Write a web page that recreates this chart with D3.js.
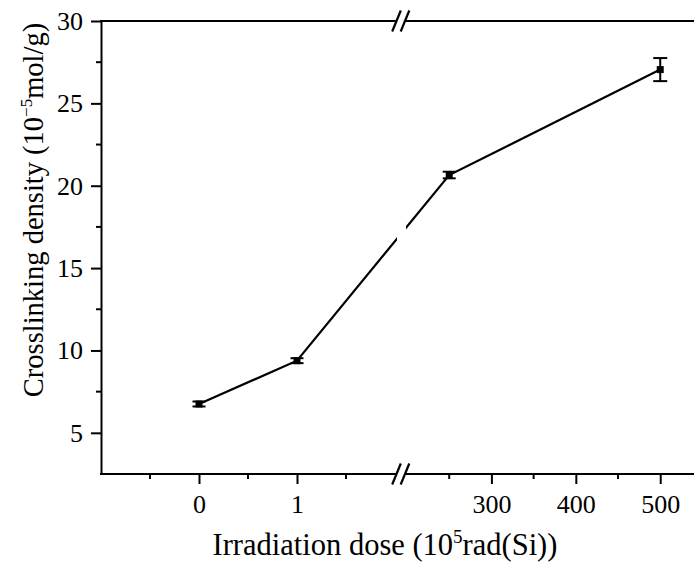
<!DOCTYPE html>
<html>
<head>
<meta charset="utf-8">
<script src="https://cdn.jsdelivr.net/npm/d3@7"></script>
<style>
  body { margin: 0; background: #fff; }
  text { font-family: "Liberation Serif", "Times New Roman", serif; fill: #000; }
</style>
</head>
<body>
<div id="container"></div>
<script>
/* DATA */
const doses = [0, 1, 250, 500];
const density = [6.75, 9.38, 20.65, 27.05];
const errors = [0.15, 0.15, 0.2, 0.7];
const leftTicks = [0, 1];
const rightTicks = [300, 400, 500];
const yTicks = [5, 10, 15, 20, 25, 30];

/* CONSTANTS */
const width = 694, height = 562;
const plotTop = 21, plotBottom = 474, plotLeft = 101, plotRight = 694;
const breakA = 396.5, breakB = 405;

const svg = d3.select("#container").append("svg")
  .attr("width", width).attr("height", height);

// SCALES (broken x axis: two pieces)
const xLeft = d3.scaleLinear().domain([-1, 2]).range([plotLeft, 395]);
const xRight = d3.scaleLinear().domain([200, 540]).range([407, 694]);
const xPos = d => d < 100 ? xLeft(d) : xRight(d);
const y = d3.scaleLinear().domain([2.5, 30]).range([plotBottom, plotTop]);

// clip regions either side of the break
const defs = svg.append("defs");
defs.append("clipPath").attr("id", "clipL").append("rect")
  .attr("x", 0).attr("y", 0).attr("width", 397).attr("height", height);
defs.append("clipPath").attr("id", "clipR").append("rect")
  .attr("x", 406).attr("y", 0).attr("width", width - 406).attr("height", height);

// Y AXIS
const yAxis = d3.axisLeft(y).tickValues(yTicks).tickFormat(d3.format("d"))
  .tickSize(10).tickPadding(8).tickSizeOuter(0);
const yg = svg.append("g").attr("transform", `translate(${plotLeft},0)`).call(yAxis);
yg.attr("font-size", null).attr("font-family", null);
yg.select(".domain").attr("stroke-width", 2);
yg.selectAll(".tick line").attr("stroke-width", 2);
yg.selectAll(".tick text").style("font-size", "26px");
yg.selectAll(".minor").data(d3.range(7.5, 30, 5)).enter().append("line")
  .attr("x1", -5).attr("x2", 0).attr("y1", d => y(d)).attr("y2", d => y(d))
  .attr("stroke", "#000").attr("stroke-width", 2);

// X AXIS pieces
const xAxisL = d3.axisBottom(xLeft).tickValues(leftTicks).tickFormat(d3.format("d"))
  .tickSize(10).tickPadding(11).tickSizeOuter(0);
const xAxisR = d3.axisBottom(xRight).tickValues(rightTicks).tickFormat(d3.format("d"))
  .tickSize(10).tickPadding(11).tickSizeOuter(0);
[[xAxisL, [-0.5, 0.5, 1.5], xLeft], [xAxisR, [250, 350, 450], xRight]].forEach(([ax, minors, sc]) => {
  const g = svg.append("g").attr("transform", `translate(0,${plotBottom})`).call(ax);
  g.attr("font-size", null).attr("font-family", null);
  g.select(".domain").remove();
  g.selectAll(".tick line").attr("stroke-width", 2);
  g.selectAll(".tick text").style("font-size", "26px");
  g.selectAll(".minor").data(minors).enter().append("line")
    .attr("x1", d => sc(d)).attr("x2", d => sc(d)).attr("y1", 0).attr("y2", 5)
    .attr("stroke", "#000").attr("stroke-width", 2);
});

// horizontal axis lines (bottom and top) with break
[plotBottom, plotTop].forEach(yy => {
  svg.append("line").attr("x1", plotLeft - 1).attr("x2", breakA).attr("y1", yy).attr("y2", yy)
    .attr("stroke", "#000").attr("stroke-width", 2);
  svg.append("line").attr("x1", breakB).attr("x2", plotRight).attr("y1", yy).attr("y2", yy)
    .attr("stroke", "#000").attr("stroke-width", 2);
  [breakA, breakB].forEach(cx => {
    svg.append("line").attr("x1", cx - 4.3).attr("y1", yy + 10.5)
      .attr("x2", cx + 4.3).attr("y2", yy - 10.5)
      .attr("stroke", "#000").attr("stroke-width", 2.2);
  });
});

// DATA LINE, clipped on both sides of the break
const pts = doses.map((d, i) => [xPos(d), y(density[i])]);
const line = d3.line();
["clipL", "clipR"].forEach(c => {
  svg.append("path").attr("d", line(pts)).attr("clip-path", `url(#${c})`)
    .attr("fill", "none").attr("stroke", "#000").attr("stroke-width", 2.2);
});

// ERROR BARS AND MARKERS
const pg = svg.append("g");
doses.forEach((d, i) => {
  const cx = xPos(d), hi = y(density[i] + errors[i]), lo = y(density[i] - errors[i]);
  const cap = i === 3 ? 7 : 6.5;
  pg.append("line").attr("x1", cx).attr("x2", cx).attr("y1", hi).attr("y2", lo)
    .attr("stroke", "#000").attr("stroke-width", 2);
  [hi, lo].forEach(v => pg.append("line").attr("x1", cx - cap).attr("x2", cx + cap)
    .attr("y1", v).attr("y2", v).attr("stroke", "#000").attr("stroke-width", 2));
  pg.append("rect").attr("x", cx - 3.5).attr("y", y(density[i]) - 3.5)
    .attr("width", 7).attr("height", 7).attr("fill", "#000");
});

// AXIS TITLES
const xt = svg.append("text").attr("x", 385).attr("y", 555)
  .attr("text-anchor", "middle").style("font-size", "30.5px");
xt.append("tspan").text("Irradiation dose (10");
xt.append("tspan").attr("dy", -12).style("font-size", "19px").text("5");
xt.append("tspan").attr("dy", 12).text("rad(Si))");

const yt = svg.append("text").attr("transform", "translate(43,210) rotate(-90)")
  .attr("text-anchor", "middle").style("font-size", "28.5px");
yt.append("tspan").text("Crosslinking density (10");
yt.append("tspan").attr("dy", -11).style("font-size", "17px").text("\u22125");
yt.append("tspan").attr("dy", 11).text("mol/g)");
</script>
</body>
</html>
